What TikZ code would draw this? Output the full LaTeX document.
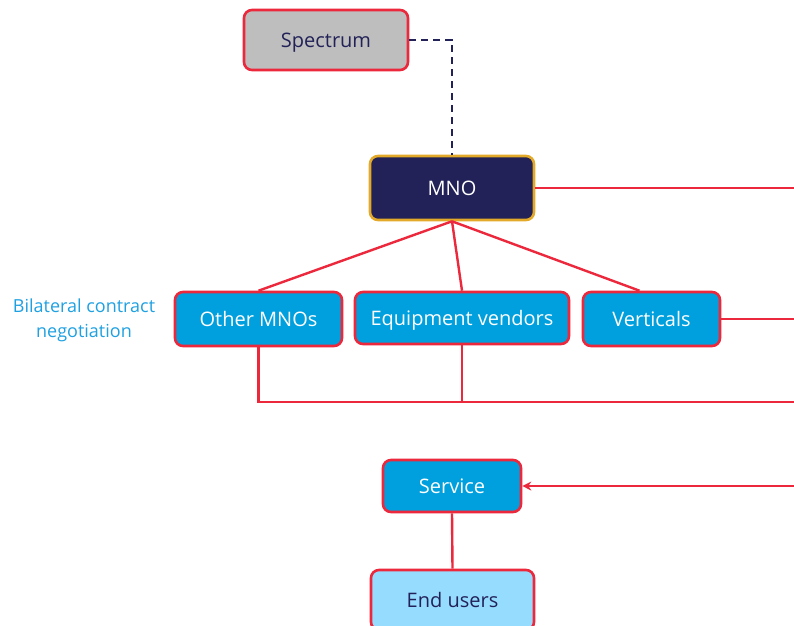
\documentclass[tikz,border=0pt]{standalone}
\usepackage{fontspec}
\setmainfont{Open Sans}
\usetikzlibrary{arrows.meta}
\definecolor{redl}{RGB}{236,40,60}
\definecolor{navy}{RGB}{34,34,88}
\definecolor{gold}{RGB}{226,170,40}
\definecolor{bluef}{RGB}{0,160,222}
\definecolor{lightb}{RGB}{150,220,255}
\definecolor{greyf}{RGB}{190,190,190}
\definecolor{labelb}{RGB}{30,160,225}
\begin{document}
\begin{tikzpicture}[x=1pt,y=-1pt,
  box/.style={draw=redl,line width=2.6pt,rounded corners=8pt,inner sep=0pt,text height=14pt,text depth=0pt,font=\fontsize{20}{24}\selectfont},
  bluebox/.style={box,fill=bluef,text=white},
  conn/.style={draw=redl,line width=2.4pt},
]
\path[use as bounding box] (0,0) rectangle (794,625);
\clip (0,0) rectangle (794,625);
\node[box,fill=greyf,text=navy,minimum width=164pt,minimum height=60pt] (spec) at (326,40) {Spectrum};
\node[box,draw=gold,fill=navy,text=white,minimum width=164pt,minimum height=64pt] (mno) at (452,188) {MNO};
\node[bluebox,minimum width=167pt,minimum height=54pt] (omno) at (258.5,319) {Other MNOs};
\node[bluebox,minimum width=214pt,minimum height=52pt] (eqv) at (462,318) {Equipment vendors};
\node[bluebox,minimum width=137pt,minimum height=54pt] (vert) at (651.5,319) {Verticals};
\node[bluebox,minimum width=138pt,minimum height=52pt] (serv) at (452,486) {Service};
\node[box,fill=lightb,text=navy,minimum width=163pt,minimum height=60pt] (endu) at (452.5,600) {End users};
\node[text=labelb,align=center,font=\fontsize{18}{25}\selectfont] (lbl) at (84,320) {Bilateral contract\\negotiation};

\coordinate (r1) at (800,188);
\coordinate (r2) at (800,319);
\coordinate (r3) at (800,402);
\coordinate (r4) at (800,486);
\coordinate (j1) at (462,402);

\draw[navy,line width=1.8pt,dash pattern=on 7pt off 5pt] (spec.east) -| (mno.north);
\draw[conn] (mno.south) -- (omno.north);
\draw[conn] (mno.south) -- (eqv.north);
\draw[conn] (mno.south) -- ([xshift=-12pt]vert.north);
\draw[conn] (mno.east) -- (r1);
\draw[conn] (vert.east) -- (r2);
\draw[conn] (omno.south) |- (r3);
\draw[conn] (eqv.south) -- (j1);
\draw[conn,-{Stealth[length=9pt,width=9pt]}] (r4) -- (serv.east);
\draw[conn] (serv.south) -- (endu.north);
\end{tikzpicture}
\end{document}
